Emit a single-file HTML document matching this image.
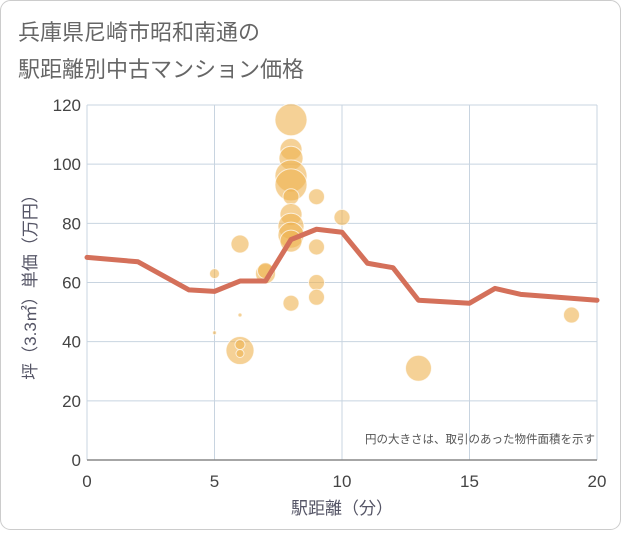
<!DOCTYPE html>
<html><head><meta charset="utf-8"><style>
body{margin:0;background:#fff;}
svg text{font-family:"Liberation Sans","Noto Sans CJK JP",sans-serif;}
</style></head><body>
<svg width="621" height="530" viewBox="0 0 621 530">
<rect x="0.5" y="0.5" width="620" height="529" rx="10" fill="#fff" stroke="#ccc"/>
<text x="18" y="40" font-size="22" fill="#666">兵庫県尼崎市昭和南通の</text>
<text x="18" y="77" font-size="22" fill="#666">駅距離別中古マンション価格</text>
<g id="grid"></g><g id="axes"></g><g id="bubbles"></g><g id="line"></g>
<text x="595" y="443" font-size="11.5" fill="#555" text-anchor="end">円の大きさは、取引のあった物件面積を示す</text>
<text x="342" y="514" font-size="17" fill="#556" text-anchor="middle">駅距離（分）</text>
<text transform="translate(36,283) rotate(-90)" font-size="17" fill="#556" text-anchor="middle">坪（3.3㎡）単価（万円）</text>
</svg>
<script>
const xTicks=[0,5,10,15,20];
const yTicks=[0,20,40,60,80,100,120];
const lineX=[0,2,4,5,6,7,8,9,10,11,12,13,15,16,17,20];
const lineY=[68.5,67,57.5,57,60.5,60.5,74.5,78,77,66.5,65,54,53,58,56,54];
const bubX=[8,8,8,8,8,8,8,8,8,8,8,9,9,9,9,10,6,6,6,6,6,5,5,7,7,13,19];
const bubY=[115,105,102,96,93,89,83,79,76,74,53,89,72,60,55,82,73,37,39,36,49,63,43,63,64,31,49];
const bubR=[16,11,12,16,16,8,11,13,13,11,8,8,8,8,8,8,9,14,5,4,2,5,2,10,8,13,8];
const X0=87,X1=597,Y0=460,Y1=105;
const sx=v=>X0+(v-0)/20*(X1-X0);
const sy=v=>Y0-(v/120)*(Y0-Y1);
const NS="http://www.w3.org/2000/svg";
function mk(tag,attrs,parent){const e=document.createElementNS(NS,tag);for(const k in attrs)e.setAttribute(k,attrs[k]);parent.appendChild(e);return e;}
const grid=document.getElementById('grid'),axes=document.getElementById('axes');
mk('rect',{x:X0,y:Y1,width:X1-X0,height:Y0-Y1,fill:'#fff'},grid);
xTicks.forEach(t=>{
 const l=mk('line',{x1:sx(t),x2:sx(t),y1:Y1,y2:Y0,stroke:'#c8d4e0','stroke-width':1},grid);
 
 
 const tx=mk('text',{x:sx(t),y:487,'font-size':17,fill:'#444','text-anchor':'middle'},axes);
 tx.textContent=t;
 
 
});
yTicks.forEach(t=>{
 const l=mk('line',{x1:X0,x2:X1,y1:sy(t),y2:sy(t),stroke:t==0?'#888':'#c8d4e0','stroke-width':t==0?1.5:1},grid);
 
 
 const tx=mk('text',{x:81,y:sy(t)+6,'font-size':17,fill:'#444','text-anchor':'end'},axes);
 tx.textContent=t;
 
 
});
const bg=document.getElementById('bubbles');
bubX.forEach((x,i)=>{
 const c=mk('circle',{cx:sx(x),cy:sy(bubY[i]),r:bubR[i],fill:'rgba(238,178,80,0.6)',stroke:'rgba(255,255,255,0.7)','stroke-width':1},bg);
 
 
});
const p=mk('polyline',{points:lineX.map((x,i)=>sx(x)+','+sy(lineY[i])).join(' '),fill:'none',stroke:'#d4705a','stroke-width':5,'stroke-linejoin':'round','stroke-linecap':'round'},document.getElementById('line'));


</script>
</body></html>
